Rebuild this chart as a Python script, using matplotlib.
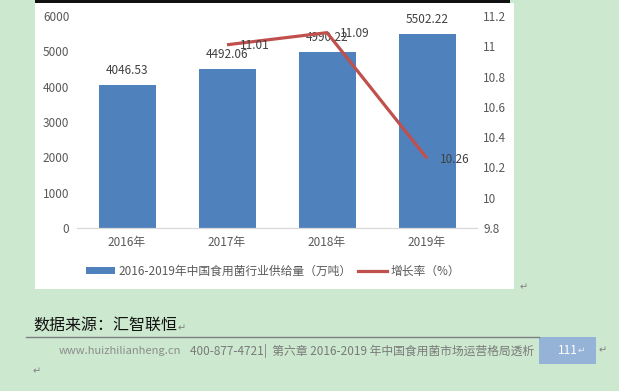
import matplotlib
matplotlib.use("Agg")
import matplotlib.pyplot as plt
from matplotlib.patches import Rectangle
from matplotlib.lines import Line2D

plt.rcParams['font.family'] = ['Noto Sans CJK SC', 'DejaVu Sans']

categories = ["2016年", "2017年", "2018年", "2019年"]
supply = [4046.53, 4492.06, 4990.22, 5502.22]
growth_years = ["2017年", "2018年", "2019年"]
growth = [11.01, 11.09, 10.26]
left_ticks = [0, 1000, 2000, 3000, 4000, 5000, 6000]
right_ticks = [9.8, 10, 10.2, 10.4, 10.6, 10.8, 11, 11.2]
right_labels = ["9.8", "10", "10.2", "10.4", "10.6", "10.8", "11", "11.2"]
bar_label = "2016-2019年中国食用菌行业供给量（万吨）"
line_label = "增长率（%）"

W, H = 619, 391
fig = plt.figure(figsize=(W / 100, H / 100), dpi=100)
fig.patch.set_facecolor("#cce8cf")

def fx(x):
    return x / W

def fy(y):
    return 1 - y / H

# white chart panel and top dark rule
fig.patches.append(Rectangle((fx(35), fy(289)), fx(514) - fx(35), fy(3) - fy(289),
                             transform=fig.transFigure, facecolor="white", edgecolor="none", zorder=-2))
fig.patches.append(Rectangle((fx(35), fy(3)), fx(510) - fx(35), fy(0) - fy(3),
                             transform=fig.transFigure, facecolor="#111111", edgecolor="none", zorder=-1))

ax = fig.add_axes([fx(77), fy(228), fx(477) - fx(77), fy(16) - fy(228)])
ax.set_facecolor("none")
x = list(range(len(categories)))
bars = ax.bar(x, supply, width=0.57, color="#4f81bd", zorder=2)
ax.set_xlim(-0.5, len(categories) - 0.5)
ax.set_ylim(0, 6000)
ax.set_yticks(left_ticks)
ax.set_yticklabels([str(t) for t in left_ticks])
ax.set_xticks(x)
ax.set_xticklabels(categories)
for s in ["top", "left", "right"]:
    ax.spines[s].set_visible(False)
ax.spines["bottom"].set_color("#d9d9d9")
ax.spines["bottom"].set_linewidth(0.9)
ax.tick_params(axis="y", length=0, pad=5.5, labelsize=8.5, labelcolor="#595959")
ax.tick_params(axis="x", length=0, pad=6, labelsize=8.5, labelcolor="#595959")

for xi, v in zip(x, supply):
    ax.annotate(f"{v:.2f}", (xi, v), xytext=(0, 10.5), textcoords="offset points",
                ha="center", va="center", fontsize=8.5, color="#404040")

ax2 = ax.twinx()
ax2.set_ylim(9.8, 11.2)
ax2.set_yticks(right_ticks)
ax2.set_yticklabels(right_labels)
for s in ["top", "left", "right", "bottom"]:
    ax2.spines[s].set_visible(False)
ax2.tick_params(axis="y", length=0, pad=4.5, labelsize=8.5, labelcolor="#595959")
gx = [categories.index(c) for c in growth_years]
ax2.plot(gx, growth, color="#c0504d", linewidth=2.3, solid_capstyle="butt", zorder=3)
for xi, v in zip(gx, growth):
    ax2.annotate(f"{v:.2f}", (xi, v), xytext=(9, -0.5), textcoords="offset points",
                 ha="left", va="center", fontsize=8.5, color="#404040")

handles = [Rectangle((0, 0), 1, 1, facecolor="#4f81bd", edgecolor="none"),
           Line2D([0], [0], color="#c0504d", linewidth=2.3)]
leg = fig.legend(handles, [bar_label, line_label], loc="center",
                 bbox_to_anchor=(fx(273), fy(271)), ncol=2, frameon=False,
                 fontsize=8.5, handlelength=2.5, handleheight=0.6, handletextpad=0.3,
                 columnspacing=0.5, borderpad=0)
for t in leg.get_texts():
    t.set_color("#595959")

# document text below chart
fig.text(fx(520), fy(287), "↵", fontsize=7, color="#808080", ha="left", va="center")
fig.text(fx(33), fy(326), "数据来源：汇智联恒", fontsize=11.5, color="#111111", ha="left", va="center")
fig.text(fx(178), fy(328), "↵", fontsize=7, color="#808080", ha="left", va="center")
fig.lines.append(Line2D([fx(26), fx(539)], [fy(337), fy(337)], transform=fig.transFigure,
                        color="#7f7f7f", linewidth=1.0))
fig.text(fx(59), fy(351), "www.huizhilianheng.cn", fontsize=8, color="#8c8c8c", ha="left", va="center")
fig.text(fx(190), fy(351), "400-877-4721|  第六章 2016-2019 年中国食用菌市场运营格局透析",
         fontsize=8.5, color="#7a7a7a", ha="left", va="center")
fig.patches.append(Rectangle((fx(539), fy(364)), fx(596) - fx(539), fy(337) - fy(364),
                             transform=fig.transFigure, facecolor="#95b3d7", edgecolor="none"))
fig.text(fx(568), fy(350), "111", fontsize=8.5, color="white", ha="center", va="center")
fig.text(fx(578), fy(350), "↵", fontsize=6.5, color="#eeeeee", ha="left", va="center")
fig.text(fx(599), fy(350), "↵", fontsize=7, color="#808080", ha="left", va="center")
fig.text(fx(33), fy(371), "↵", fontsize=7, color="#808080", ha="left", va="center")

fig.savefig("out.png", dpi=100, facecolor=fig.get_facecolor())
